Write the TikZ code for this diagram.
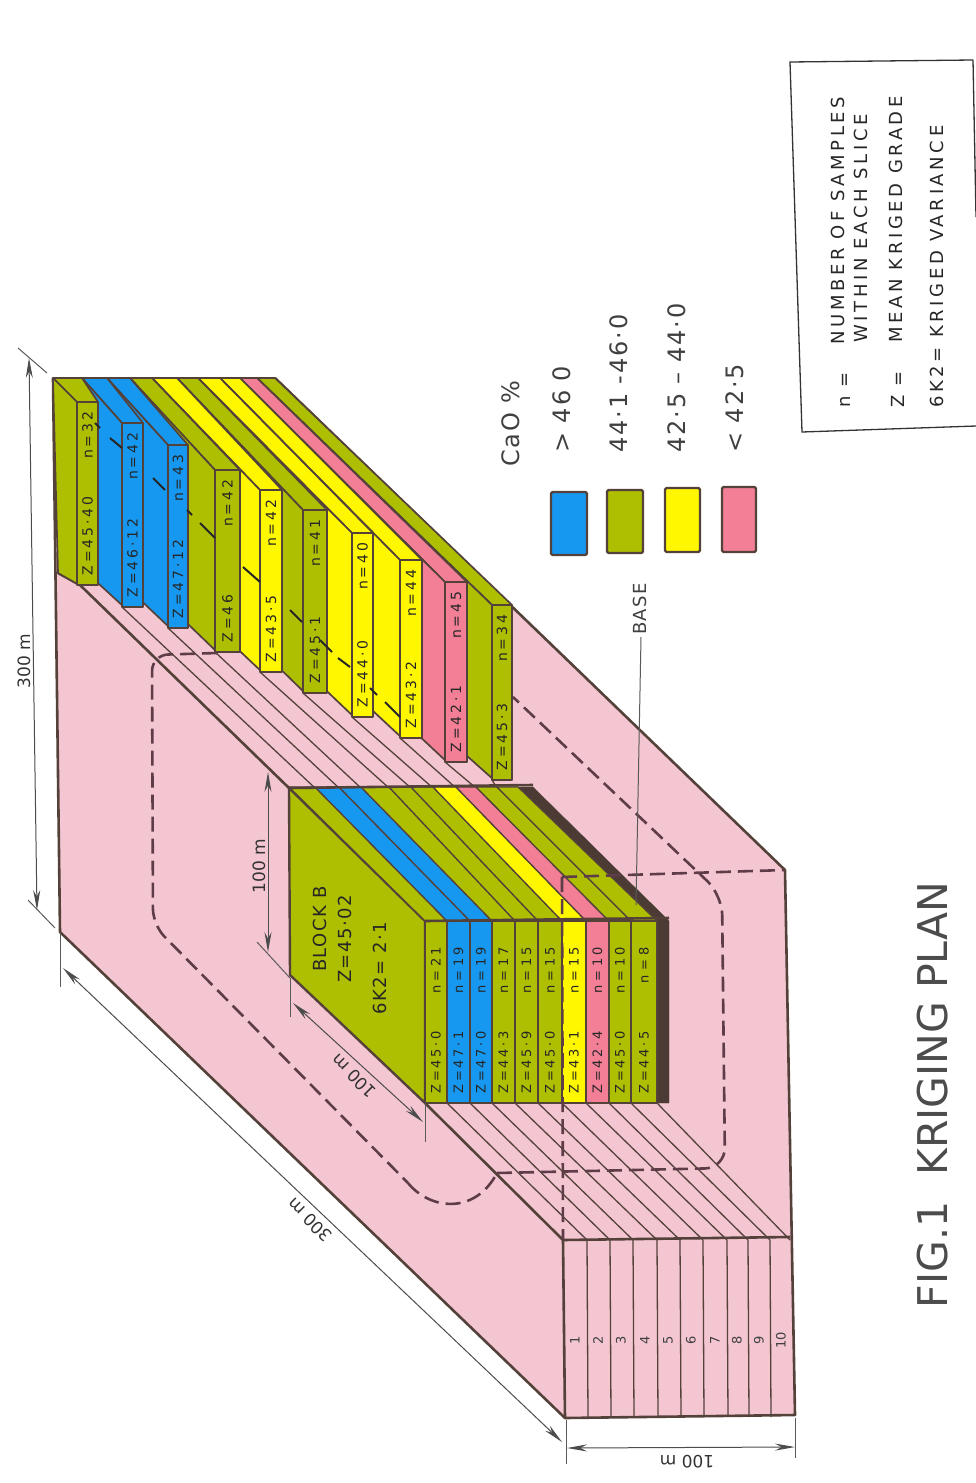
\documentclass[tikz,border=0pt]{standalone}
\usepackage{fontspec}
\setmainfont{DejaVu Sans}
\newfontfamily\spacedfont[LetterSpace=20]{DejaVu Sans}
\newfontfamily\loosefont[LetterSpace=8]{DejaVu Sans}
\usetikzlibrary{arrows.meta}
\definecolor{basepink}{HTML}{F4C6D2}
\definecolor{slicegreen}{HTML}{AEBE00}
\definecolor{sliceblue}{HTML}{1798F0}
\definecolor{sliceyellow}{HTML}{FFF700}
\definecolor{slicepink}{HTML}{F27F96}
\definecolor{edgebrown}{HTML}{54423A}
\definecolor{dashbrown}{HTML}{5E3D48}
\tikzset{
  slice/.style={draw=edgebrown, line width=1.7pt, line join=round},
  edgeline/.style={draw=edgebrown, line width=2.6pt, line join=round},
  stripline/.style={draw=edgebrown, line width=1.3pt},
  dashline/.style={draw=dashbrown, line width=2.6pt, dash pattern=on 15pt off 7pt},
  dimline/.style={draw=black!70, line width=1pt, {Stealth[length=20pt,width=7pt]}-{Stealth[length=20pt,width=7pt]}},
  extline/.style={draw=black!65, line width=1pt},
  rearlabel/.style={rotate=90, text=black!85, inner sep=0pt, align=left, font=\spacedfont\fontsize{14}{16}\selectfont},
  frontlabel/.style={rotate=90, text=black!85, inner sep=0pt, align=left, text width=146pt, font=\spacedfont\fontsize{13}{15}\selectfont},
  blocklabel/.style={rotate=90, text=black!85, inner sep=0pt, font=\loosefont\fontsize{18}{20}\selectfont},
  dimlabel/.style={text=black!80, inner sep=0pt, font=\fontsize{17}{19}\selectfont},
  keylabel/.style={rotate=90, anchor=west, text=black!75, inner sep=0pt, font=\loosefont\fontsize{24}{26}\selectfont},
  notelabel/.style={rotate=90, anchor=west, text=black!85, inner sep=0pt, font=\spacedfont\fontsize{18}{20}\selectfont},
}
\begin{document}
\begin{tikzpicture}[x=1pt, y=-1pt]
  \useasboundingbox (0,0) rectangle (976,1483);
  % Base block
  \fill[basepink] (53,378) -- (275,378) -- (785,870) -- (795,1415) -- (565,1418) -- (60,932) -- cycle;
  \draw[edgeline] (53,378) -- (60,932) -- (565,1418) -- (795,1415) -- (785,870) -- (275,378);
  \draw[edgeline] (563,1240) -- (790,1237);
  \draw[edgeline] (425,1103) -- (563,1240) -- (565,1418);
  % Slice numbers on the front face
  \foreach \xa/\n [count=\k] in {575/1,598/2,621/3,645/4,668/5,691/6,715/7,737/8,759/9,781/10}
    \node[rotate=90, text=black!75, inner sep=0pt, font=\fontsize{13}{15}\selectfont] (num\k) at (\xa,1340) {\n};
  \foreach \xa in {587,610,633,657,680,703,727,748,770}
    \draw[stripline] (\xa,1240) -- (\xa+1,1417);
  % Strips between the rear slices and block B
  \foreach \xa/\ya/\xb in {122/607/315,168/628/339,215/652/361,260/672/389,303/693/411,352/717/433,400/738/456,445/762/476,492/780/497}
    \draw[stripline] (\xa,\ya) -- (\xb,788);
  \draw[edgeline] (58,573) -- (80,585) -- (289,788);
  % Strips in front of block B
  \foreach \xa/\xb in {447/587,470/610,492/633,515/657,538/680,562/703,586/727,609/748,631/770,657/790}
    \draw[stripline] (\xa,1103) -- (\xb,1240);
  % Rear slices, the far one first
  \foreach \xa/\xb/\xc/\xd/\yt/\yb/\col/\txt/\k in {
      257/275/492/512/605/780/slicegreen/{Z=45·3\hfill n=34}/10,
      240/257/445/467/582/762/slicepink/{Z=42·1\hfill n=45}/9,
      220/240/400/422/560/738/sliceyellow/{Z=43·2\hfill n=44}/8,
      198/220/352/373/533/717/sliceyellow/{Z=44·0\hfill n=40}/7,
      177/198/303/327/510/693/slicegreen/{Z=45·1\hfill n=41}/6,
      152/177/260/282/490/672/sliceyellow/{Z=43·5\hfill n=42}/5,
      130/152/215/240/470/652/slicegreen/{Z=46\hfill n=42}/4,
      107/130/168/188/445/628/sliceblue/{Z=47·12\hfill n=43}/3,
      82/107/122/143/423/607/sliceblue/{Z=46·12\hfill n=42}/2,
      53/82/77/98/402/585/slicegreen/{Z=45·40\hfill n=32}/1}
  {
    \filldraw[slice, fill=\col] (\xa,378) -- (\xb,378) -- (\xd,\yt) -- (\xc,\yt) -- cycle;
    \filldraw[slice, fill=\col] (\xa,378) -- (\xc,\yt) -- (\xc+2,\yb) -- (\xa+5,573) -- cycle;
    \filldraw[slice, fill=\col] (\xc,\yt) rectangle (\xd,\yb);
    \node[rearlabel, text width=\yb pt-\yt pt-20pt] (rear\k) at ({(\xc+\xd)/2},{(\yt+\yb)/2}) {\txt};
  }
  \draw[edgeline] (53,378) -- (275,378);
  % Dashed cut through the rear slices
  \foreach \xa/\ya/\xb/\yb in {95/423/100/428,110/438/122/448,153/478/165/490,187/510/192/515,200/523/215/538,243/567/260/582,290/610/302/622,320/640/332/652,338/658/350/667,370/688/377/695,385/702/400/717}
    \draw[draw=black!85, line width=2pt] (\xa,\ya) -- (\xb,\yb);
  % Block B
  \filldraw[fill=edgebrown!90!black, draw=edgebrown] (518,787) -- (533,787) -- (669,921) -- (669,1103) -- (657,1103) -- (657,921) -- cycle;
  \filldraw[slice, fill=slicegreen, line width=2.4pt] (289,788) -- (425,921) -- (425,1103) -- (290,975) -- cycle;
  \foreach \xa/\xb/\xc/\xd/\col/\txt/\k in {
      289/315/425/447/slicegreen/{Z=45·0\hfill n = 21}/1,
      315/339/447/470/sliceblue/{Z=47·1\hfill n = 19}/2,
      339/361/470/492/sliceblue/{Z=47·0\hfill n = 19}/3,
      361/389/492/515/slicegreen/{Z=44·3\hfill n = 17}/4,
      389/411/515/538/slicegreen/{Z=45·9\hfill n = 15}/5,
      411/433/538/562/slicegreen/{Z=45·0\hfill n = 15}/6,
      433/456/562/586/sliceyellow/{Z=43·1\hfill n = 15}/7,
      456/476/586/609/slicepink/{Z=42·4\hfill n = 10}/8,
      476/497/609/631/slicegreen/{Z=45·0\hfill n = 10}/9,
      497/518/631/657/slicegreen/{Z=44·5\hfill n = 8}/10}
  {
    \filldraw[stripline, fill=\col] (\xa,787) -- (\xb,787) -- (\xd,921) -- (\xc,921) -- cycle;
    \filldraw[slice, fill=\col] (\xc,921) rectangle (\xd,1103);
    \node[frontlabel] (front\k) at ({(\xc+\xd)/2},1020) {\txt};
  }
  \draw[edgeline] (289,788) -- (533,785);
  \draw[edgeline] (425,921) -- (669,918);
  \node[blocklabel] (blockname) at (320,929) {BLOCK B};
  \node[blocklabel] (blockgrade) at (345,939) {Z=45·02};
  \node[blocklabel] (blockvar) at (380,968) {6K2= 2·1};
  % Dashed outline
  \draw[dashline, rounded corners=16pt] (217,653) -- (152,655) -- (153,925) -- (408,1183);
  \draw[dashline] (408,1183) .. controls (430,1210) and (475,1215) .. (497,1173);
  \draw[dashline, rounded corners=20pt] (497,1173) -- (725,1168) -- (722,895) -- (513,697);
  \draw[dashline] (562,877) -- (785,870);
  \draw[dashline] (562,877) -- (563,1240);
  % Base label
  \draw[extline] (641,637) -- (636,905);
  \node[rotate=90, anchor=west, text=black!75, inner sep=0pt, font=\loosefont\fontsize{18}{20}\selectfont] (baselabel) at (640,635) {BASE};
  % Dimensions
  \coordinate (dimtop) at (29,358);
  \coordinate (dimbot) at (37,910);
  \draw[dimline] (dimtop) -- (dimbot);
  \draw[extline] (18,348) -- (47,373);
  \draw[extline] (28,900) -- (55,928);
  \node[dimlabel, rotate=90] (toplen) at (24,661) {300 m};
  \coordinate (dimleft) at (63,968);
  \coordinate (dimfront) at (562,1442);
  \draw[dimline] (dimleft) -- (dimfront);
  \draw[extline] (60,932) -- (60,987);
  \node[dimlabel, rotate=135] (sidelen) at (310,1220) {300 m};
  \coordinate (frontl) at (567,1448);
  \coordinate (frontr) at (795,1447);
  \draw[dimline] (frontl) -- (frontr);
  \draw[extline] (566,1420) -- (566,1464);
  \draw[extline] (795,1418) -- (795,1458);
  \node[dimlabel, rotate=180] (frontlen) at (687,1462) {100 m};
  \coordinate (blockt) at (268,772);
  \coordinate (blockbot) at (268,952);
  \draw[dimline] (blockt) -- (blockbot);
  \draw[extline] (290,978) -- (257,942);
  \node[dimlabel, rotate=90] (blocktop) at (259,866) {100 m};
  \coordinate (blockl) at (293,1003);
  \coordinate (blockr) at (423,1122);
  \draw[dimline] (blockl) -- (blockr);
  \draw[extline] (290,978) -- (290,1017);
  \draw[extline] (425,1103) -- (425,1142);
  \node[dimlabel, rotate=135] (blockside) at (354,1076) {100 m};
  % Colour key
  \node[keylabel] (caolabel) at (511,467) {CaO \%};
  \foreach \xa/\xb/\ya/\yb/\col/\txt/\k/\xt in {
      551/587/492/555/sliceblue/{>\ 46 0}/1/562,
      607/643/490/553/slicegreen/{44·1 -46·0}/2/619,
      665/700/488/552/sliceyellow/{42·5 – 44·0}/3/677,
      722/756/487/552/slicepink/{<\ 42·5}/4/735}
  {
    \filldraw[fill=\col, draw=edgebrown, line width=2.4pt, rounded corners=1.5pt] (\xa,\ya) rectangle (\xb,\yb);
    \node[keylabel] (key\k) at (\xt,453) {\txt};
  }
  % Notes box
  \draw[draw=black!80, line width=1.3pt] (973,60) -- (790,62) -- (802,432) -- (976,426);
  \draw[draw=black!80, line width=1.3pt] (973,60) -- (976,217);
  \node[notelabel] (nsym) at (845,408) {n =};
  \node[notelabel] (ntext) at (838,345) {NUMBER OF SAMPLES};
  \node[notelabel] (ntextb) at (861,343) {WITHIN EACH SLICE};
  \node[notelabel] (zsym) at (898,408) {Z =};
  \node[notelabel] (ztext) at (896,343) {MEAN KRIGED GRADE};
  \node[notelabel] (vtext) at (937,408) {6K2= KRIGED VARIANCE};
  % Title
  \node[rotate=90, text=black!70, inner sep=0pt, font=\fontsize{41}{46}\selectfont] (title) at (933,1095) {FIG.1\ \ KRIGING PLAN};
\end{tikzpicture}
\end{document}
